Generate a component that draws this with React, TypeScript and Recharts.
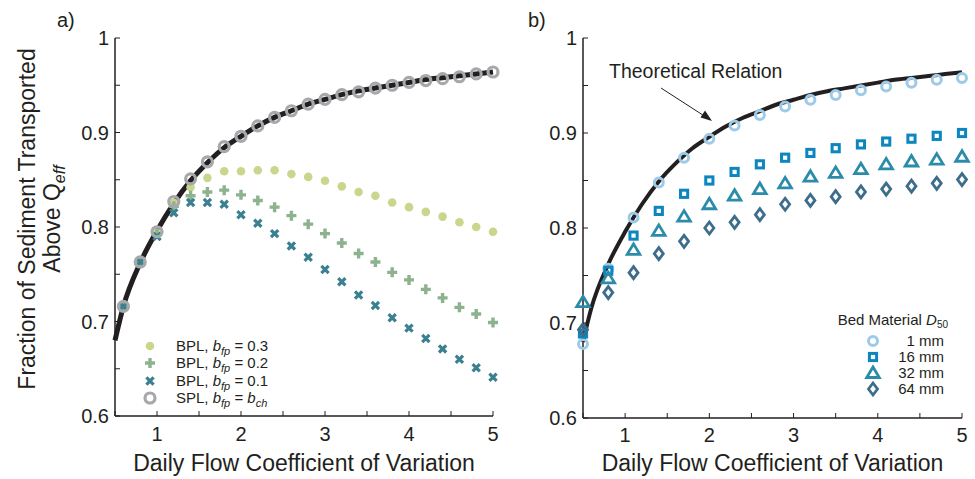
import React from "react";
import { ComposedChart, Line, Scatter, XAxis, YAxis, Label } from "recharts";

const INK = "#231f20";
const FONT = '"Liberation Sans", Arial, Helvetica, sans-serif';

// panel a: daily flow CV vs fraction of sediment transported above Qeff
const cvA = [0.6, 0.8, 1.0, 1.2, 1.4, 1.6, 1.8, 2.0, 2.2, 2.4, 2.6, 2.8, 3.0, 3.2, 3.4, 3.6, 3.8, 4.0, 4.2, 4.4, 4.6, 4.8, 5.0];
const splA = [0.716, 0.763, 0.795, 0.827, 0.851, 0.869, 0.885, 0.896, 0.907, 0.916, 0.923, 0.93, 0.935, 0.94, 0.943, 0.947, 0.95, 0.953, 0.955, 0.957, 0.959, 0.962, 0.964];
const bpl03 = [0.716, 0.763, 0.794, 0.826, 0.842, 0.852, 0.859, 0.859, 0.86, 0.86, 0.856, 0.853, 0.849, 0.843, 0.837, 0.833, 0.826, 0.821, 0.816, 0.811, 0.805, 0.8, 0.795];
const bpl02 = [0.716, 0.763, 0.793, 0.822, 0.833, 0.837, 0.839, 0.834, 0.828, 0.821, 0.812, 0.803, 0.793, 0.783, 0.772, 0.763, 0.752, 0.744, 0.734, 0.725, 0.715, 0.708, 0.699];
const bpl01 = [0.716, 0.763, 0.79, 0.815, 0.826, 0.826, 0.824, 0.813, 0.804, 0.793, 0.78, 0.768, 0.755, 0.742, 0.728, 0.717, 0.704, 0.693, 0.682, 0.671, 0.66, 0.651, 0.641];

// theoretical relation (black curve, both panels)
const theoryCv = [0.5, 0.6, 0.8, 1.0, 1.2, 1.4, 1.6, 1.8, 2.0, 2.2, 2.4, 2.6, 2.8, 3.0, 3.2, 3.4, 3.6, 3.8, 4.0, 4.2, 4.4, 4.6, 4.8, 5.0];
const theoryFrac = [0.68, 0.716, 0.762, 0.796, 0.825, 0.849, 0.868, 0.884, 0.896, 0.907, 0.916, 0.923, 0.93, 0.935, 0.94, 0.944, 0.947, 0.95, 0.953, 0.956, 0.958, 0.96, 0.962, 0.964];

// panel b: bed material D50
const cvB = [0.5, 0.8, 1.1, 1.4, 1.7, 2.0, 2.3, 2.6, 2.9, 3.2, 3.5, 3.8, 4.1, 4.4, 4.7, 5.0];
const d1mm = [0.678, 0.757, 0.811, 0.848, 0.874, 0.894, 0.908, 0.919, 0.928, 0.935, 0.94, 0.945, 0.949, 0.953, 0.956, 0.958];
const d16mm = [0.689, 0.755, 0.792, 0.818, 0.836, 0.85, 0.859, 0.867, 0.874, 0.879, 0.884, 0.888, 0.891, 0.894, 0.897, 0.9];
const d32mm = [0.722, 0.747, 0.777, 0.797, 0.812, 0.825, 0.834, 0.841, 0.847, 0.854, 0.858, 0.862, 0.867, 0.87, 0.872, 0.875];
const d64mm = [0.693, 0.732, 0.753, 0.773, 0.786, 0.8, 0.806, 0.814, 0.825, 0.829, 0.833, 0.838, 0.841, 0.844, 0.847, 0.851];

const xTicks = [0.5, 1, 1.5, 2, 2.5, 3, 3.5, 4, 4.5, 5];
const yTicks = [0.6, 0.65, 0.7, 0.75, 0.8, 0.85, 0.9, 0.95, 1];

const C03 = "#c9d78e";
const C02 = "#8db28e";
const C01 = "#3b8090";
const CSPL = "#a6a8ab";
const C1 = "#9dcbe7";
const C16 = "#0b86bf";
const C32 = "#2b8caa";
const C64 = "#3e6d8c";

const pts = (xs: number[], ys: number[]) => xs.map((x, i) => ({ x, y: ys[i] }));

type MP = { cx?: number; cy?: number };

const Dot03 = ({ cx = 0, cy = 0 }: MP) => <circle cx={cx} cy={cy} r={4.3} fill={C03} />;
const Plus02 = ({ cx = 0, cy = 0 }: MP) => (
  <path d={`M${cx - 5},${cy}H${cx + 5}M${cx},${cy - 5}V${cy + 5}`} stroke={C02} strokeWidth={3.4} fill="none" />
);
const Cross01 = ({ cx = 0, cy = 0 }: MP) => (
  <path
    d={`M${cx - 3.6},${cy - 3.6}L${cx + 3.6},${cy + 3.6}M${cx + 3.6},${cy - 3.6}L${cx - 3.6},${cy + 3.6}`}
    stroke={C01}
    strokeWidth={3.2}
    fill="none"
  />
);
const RingSpl = ({ cx = 0, cy = 0 }: MP) => <circle cx={cx} cy={cy} r={5} fill="none" stroke={CSPL} strokeWidth={3.2} />;

const Ring1 = ({ cx = 0, cy = 0 }: MP) => <circle cx={cx} cy={cy} r={4.5} fill="none" stroke={C1} strokeWidth={3} />;
const Square16 = ({ cx = 0, cy = 0 }: MP) => (
  <rect x={cx - 3.6} y={cy - 3.6} width={7.2} height={7.2} fill="none" stroke={C16} strokeWidth={3} />
);
const Tri32 = ({ cx = 0, cy = 0 }: MP) => (
  <path d={`M${cx},${cy - 6}L${cx + 6.3},${cy + 4.5}L${cx - 6.3},${cy + 4.5}Z`} fill="none" stroke={C32} strokeWidth={2.8} />
);
const Diamond64 = ({ cx = 0, cy = 0 }: MP) => (
  <path d={`M${cx},${cy - 6}L${cx + 4.5},${cy}L${cx},${cy + 6}L${cx - 4.5},${cy}Z`} fill="none" stroke={C64} strokeWidth={2.8} />
);

function BottomTick(props: any) {
  const { x, y, payload, labelGap } = props;
  const v = payload.value as number;
  return (
    <g>
      <line x1={x} x2={x} y1={y} y2={y - 5} stroke={INK} strokeWidth={1} />
      {Number.isInteger(v) && (
        <text x={x} y={y + labelGap} textAnchor="middle" fontSize={20} fill={INK} fontFamily={FONT}>
          {v}
        </text>
      )}
    </g>
  );
}

function TopTick(props: any) {
  const { x, y } = props;
  return <line x1={x} x2={x} y1={y} y2={y + 5} stroke={INK} strokeWidth={1} />;
}

function LeftTick(props: any) {
  const { x, y, payload } = props;
  const v = payload.value as number;
  const major = Math.abs(v * 10 - Math.round(v * 10)) < 1e-6;
  return (
    <g>
      <line x1={x} x2={x + 5} y1={y} y2={y} stroke={INK} strokeWidth={1} />
      {major && (
        <text x={x - 6} y={y + 7} textAnchor="end" fontSize={20} fill={INK} fontFamily={FONT}>
          {v === 1 ? "1" : v.toFixed(1)}
        </text>
      )}
    </g>
  );
}

function RightTick(props: any) {
  const { x, y } = props;
  return <line x1={x} x2={x - 5} y1={y} y2={y} stroke={INK} strokeWidth={1} />;
}

function YTitle(props: any) {
  const vb = props.viewBox || { y: 38, height: 378 };
  const cy = vb.y + vb.height / 2 - 8;
  return (
    <g fontFamily={FONT} fontSize={23} fill={INK}>
      <text transform={`translate(35,${cy}) rotate(-90)`} textAnchor="middle">
        Fraction of Sediment Transported
      </text>
      <text transform={`translate(60,${cy}) rotate(-90)`} textAnchor="middle">
        <tspan>Above Q</tspan>
        <tspan fontStyle="italic" fontSize={16} dy={5}>
          eff
        </tspan>
      </text>
    </g>
  );
}

const axisLine = { stroke: INK, strokeWidth: 1.5 };
const xTitle = "Daily Flow Coefficient of Variation";

export default function App() {
  const theory = pts(theoryCv, theoryFrac);
  return (
    <div
      style={{
        position: "absolute",
        left: 0,
        top: 0,
        width: 975,
        height: 479,
        background: "#fff",
        fontFamily: FONT,
      }}
    >
      <div style={{ position: "absolute", left: 0, top: 0 }}>
        <ComposedChart width={500} height={479} margin={{ top: 38, right: 7, bottom: 0, left: 0 }}>
          <XAxis
            type="number"
            dataKey="x"
            domain={[0.5, 5]}
            ticks={xTicks}
            interval={0}
            tickSize={0}
            tickMargin={0}
            height={63}
            axisLine={axisLine}
            tick={<BottomTick labelGap={25} />}
          >
            <Label value={xTitle} position="insideBottom" offset={8} fontSize={23} fill={INK} fontFamily={FONT} />
          </XAxis>
          <XAxis
            xAxisId="top"
            orientation="top"
            type="number"
            dataKey="x"
            domain={[0.5, 5]}
            ticks={xTicks}
            interval={0}
            tickSize={0}
            tickMargin={0}
            height={0}
            axisLine={axisLine}
            tick={<TopTick />}
          />
          <YAxis
            type="number"
            dataKey="y"
            domain={[0.6, 1]}
            ticks={yTicks}
            interval={0}
            tickSize={0}
            tickMargin={0}
            width={115}
            axisLine={axisLine}
            tick={<LeftTick />}
          >
            <Label content={<YTitle />} />
          </YAxis>
          <YAxis
            yAxisId="right"
            orientation="right"
            type="number"
            dataKey="y"
            domain={[0.6, 1]}
            ticks={yTicks}
            interval={0}
            tickSize={0}
            tickMargin={0}
            width={0}
            axisLine={axisLine}
            tick={<RightTick />}
          />
          <Line data={theory} dataKey="y" type="monotone" stroke={INK} strokeWidth={5} dot={false} isAnimationActive={false} />
          <Scatter data={pts(cvA, bpl03)} shape={(p: any) => <Dot03 cx={p.cx} cy={p.cy} />} isAnimationActive={false} />
          <Scatter data={pts(cvA, bpl02)} shape={(p: any) => <Plus02 cx={p.cx} cy={p.cy} />} isAnimationActive={false} />
          <Scatter data={pts(cvA, bpl01)} shape={(p: any) => <Cross01 cx={p.cx} cy={p.cy} />} isAnimationActive={false} />
          <Scatter data={pts(cvA, splA)} shape={(p: any) => <RingSpl cx={p.cx} cy={p.cy} />} isAnimationActive={false} />
        </ComposedChart>
      </div>

      <div style={{ position: "absolute", left: 500, top: 0 }}>
        <ComposedChart width={475} height={479} margin={{ top: 38, right: 13, bottom: 0, left: 0 }}>
          <XAxis
            type="number"
            dataKey="x"
            domain={[0.5, 5]}
            ticks={xTicks}
            interval={0}
            tickSize={0}
            tickMargin={0}
            height={61}
            axisLine={axisLine}
            tick={<BottomTick labelGap={24} />}
          >
            <Label value={xTitle} position="insideBottom" offset={8} fontSize={23} fill={INK} fontFamily={FONT} />
          </XAxis>
          <XAxis
            xAxisId="top"
            orientation="top"
            type="number"
            dataKey="x"
            domain={[0.5, 5]}
            ticks={xTicks}
            interval={0}
            tickSize={0}
            tickMargin={0}
            height={0}
            axisLine={axisLine}
            tick={<TopTick />}
          />
          <YAxis
            type="number"
            dataKey="y"
            domain={[0.6, 1]}
            ticks={yTicks}
            interval={0}
            tickSize={0}
            tickMargin={0}
            width={83}
            axisLine={axisLine}
            tick={<LeftTick />}
          />
          <YAxis
            yAxisId="right"
            orientation="right"
            type="number"
            dataKey="y"
            domain={[0.6, 1]}
            ticks={yTicks}
            interval={0}
            tickSize={0}
            tickMargin={0}
            width={0}
            axisLine={axisLine}
            tick={<RightTick />}
          />
          <Line data={theory} dataKey="y" type="monotone" stroke={INK} strokeWidth={4} dot={false} isAnimationActive={false} />
          <Scatter data={pts(cvB, d1mm)} shape={(p: any) => <Ring1 cx={p.cx} cy={p.cy} />} isAnimationActive={false} />
          <Scatter data={pts(cvB, d16mm)} shape={(p: any) => <Square16 cx={p.cx} cy={p.cy} />} isAnimationActive={false} />
          <Scatter data={pts(cvB, d32mm)} shape={(p: any) => <Tri32 cx={p.cx} cy={p.cy} />} isAnimationActive={false} />
          <Scatter data={pts(cvB, d64mm)} shape={(p: any) => <Diamond64 cx={p.cx} cy={p.cy} />} isAnimationActive={false} />
        </ComposedChart>
      </div>

      {/* panel letters, legends and the arrow note */}
      <svg
        width={975}
        height={479}
        style={{ position: "absolute", left: 0, top: 0, pointerEvents: "none" }}
        fontFamily={FONT}
        fill={INK}
      >
        <text x={57} y={27} fontSize={20}>a)</text>
        <text x={528} y={27} fontSize={20}>b)</text>

        <Dot03 cx={150} cy={346} />
        <Plus02 cx={150} cy={363} />
        <Cross01 cx={150} cy={381} />
        <RingSpl cx={150} cy={398} />
        {[
          { cy: 346, v: "0.3" },
          { cy: 363, v: "0.2" },
          { cy: 381, v: "0.1" },
        ].map((r) => (
          <text key={r.v} x={176} y={r.cy + 5} fontSize={15}>
            BPL, <tspan fontStyle="italic">b</tspan>
            <tspan fontStyle="italic" fontSize={11} dy={4}>fp</tspan>
            <tspan dy={-4}> = {r.v}</tspan>
          </text>
        ))}
        <text x={176} y={403} fontSize={15}>
          SPL, <tspan fontStyle="italic">b</tspan>
          <tspan fontStyle="italic" fontSize={11} dy={4}>fp</tspan>
          <tspan dy={-4}> = </tspan>
          <tspan fontStyle="italic">b</tspan>
          <tspan fontStyle="italic" fontSize={11} dy={4}>ch</tspan>
        </text>

        <text x={948} y={325} fontSize={15} textAnchor="end">
          Bed Material <tspan fontStyle="italic">D</tspan>
          <tspan fontSize={10} dy={3}>50</tspan>
        </text>
        <Ring1 cx={873} cy={341} />
        <Square16 cx={873} cy={357} />
        <Tri32 cx={873} cy={373} />
        <Diamond64 cx={873} cy={389} />
        <text x={944} y={346} fontSize={15} textAnchor="end">1 mm</text>
        <text x={944} y={362} fontSize={15} textAnchor="end">16 mm</text>
        <text x={944} y={378} fontSize={15} textAnchor="end">32 mm</text>
        <text x={944} y={394} fontSize={15} textAnchor="end">64 mm</text>

        <text x={609} y={78} fontSize={19.5}>Theoretical Relation</text>
        <line x1={661} y1={88} x2={709} y2={119} stroke={INK} strokeWidth={1} />
        <path d="M712,121 L700.5,117.5 L705,110.5 Z" fill={INK} />
      </svg>
    </div>
  );
}
